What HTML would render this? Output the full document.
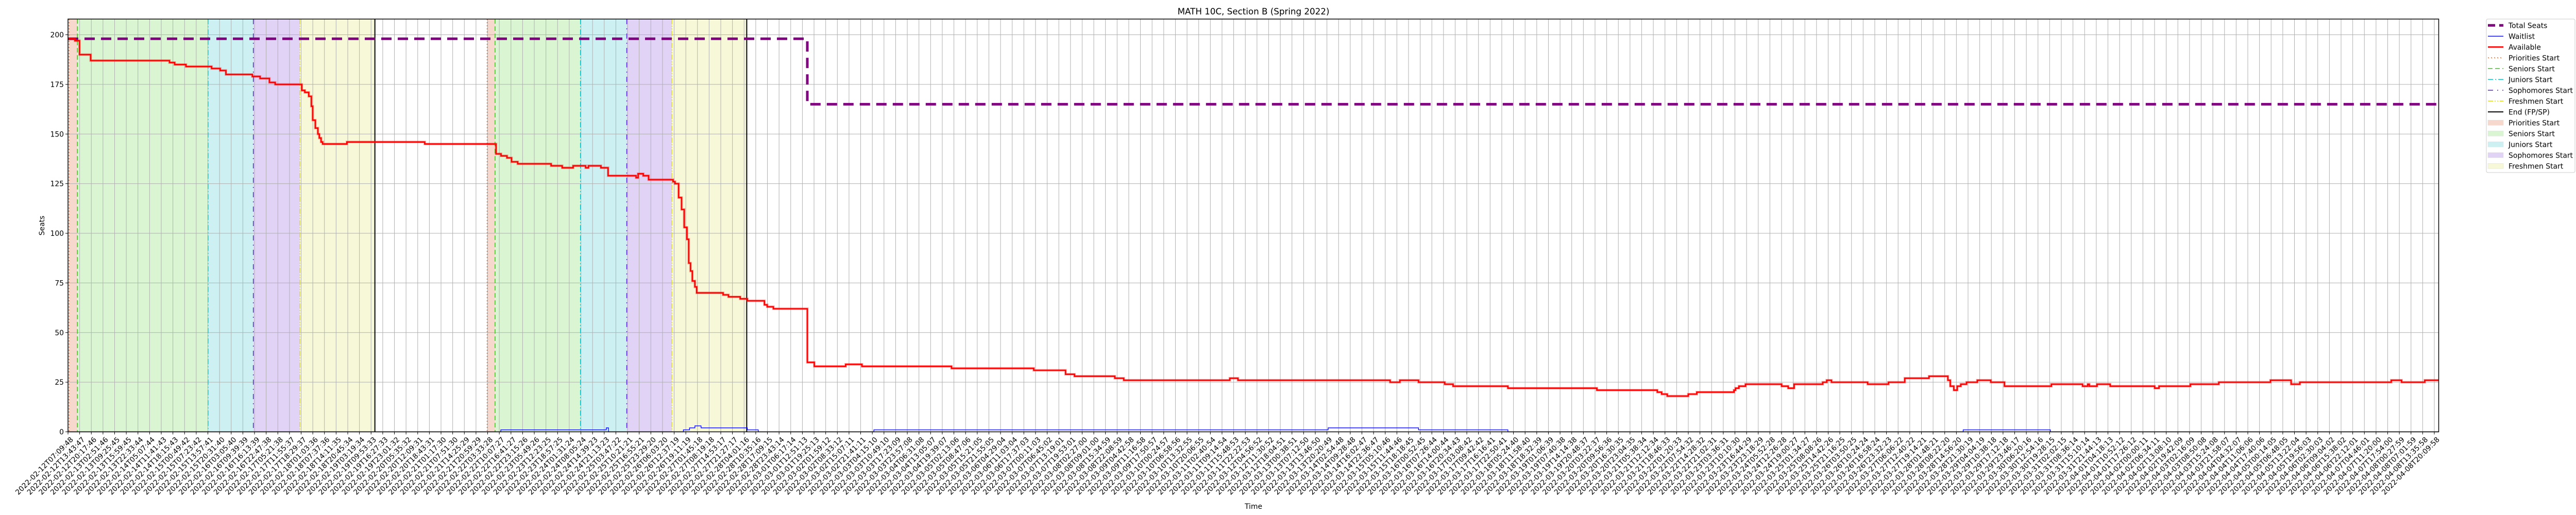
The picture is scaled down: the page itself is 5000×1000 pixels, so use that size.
<!DOCTYPE html>
<html><head><meta charset="utf-8"><style>
html,body{margin:0;padding:0;background:#fff;}
svg{display:block;font-family:"DejaVu Sans","Liberation Sans",sans-serif;}
</style></head><body>
<svg id="chart" width="5000" height="1000" viewBox="0 0 5000 1000" xmlns="http://www.w3.org/2000/svg">
<rect x="0" y="0" width="5000" height="1000" fill="#fff"/>
<text x="2433" y="28" text-anchor="middle" font-size="16.7">MATH 10C, Section B (Spring 2022)</text>
<g id="spans"></g><g id="grid"></g><g id="vlines"></g><g id="series"></g><g id="axes"></g>
<text x="2433" y="988" text-anchor="middle" font-size="13.9">Time</text>
<text transform="translate(86,438) rotate(-90)" text-anchor="middle" font-size="13.9">Seats</text>
<g id="legend"></g>
</svg>
<script>
// ---- data (x in hours since 2022-02-12T07:09:48) ----
const availTimes = [0,3.5,5.8,11.4,51.1,53.7,59.4,72.3,76.6,79.5,92.8,96.7,101.4,104.3,117.7,119.2,121.2,122.5,123.2,124.5,125.8,126.5,127.4,128.2,140.4,179.6,215.5,218,221,223.3,226.4,243.2,248.8,254.3,260.6,262,268.3,271.9,286,287,289.6,292.3,304.6,305.6,307.4,308.9,310.2,311.6,312.5,313.4,314.3,315.6,316.5,329.8,332.5,338.4,342,350.6,352,355.1,372.2,375.7,391.5,399.7,444.8,486.2,502.2,506.7,527,531.5,584.9,589,665.6,670.5,679.9,693.1,697.3,724.9,769.7,800.1,802.3,805.1,815.7,820,838.7,839.5,841.2,844.5,862.7,866,869,883.4,885.4,887.8,906,916.5,924.7,936.9,946.4,947.6,949.4,951.1,952.9,955.8,961.2,968,974.9,998.5,1014.2,1016.8,1017.6,1021.5,1028.1,1050.5,1052.7,1068.5,1082.8,1108.8,1119.2,1123.6,1169.6,1174.8,1186.5];
const availValues = [198,197,190,187,186,185,184,183,182,180,179,178,176,175,172,171,169,164,157,153,150,148,146,145,146,145,140,139,138,136,135,134,133,134,133,134,133,129,128,130,129,127,126,125,118,112,103,97,85,81,76,73,70,69,68,67,66,64,63,62,35,33,34,33,32,31,29,28,27,26,27,26,25,26,25,24,23,22,21,20,19,18,19,20,21,22,23,24,23,22,24,25,26,25,24,25,27,28,26,23,21,23,24,25,26,25,23,24,23,24,23,24,23,22,23,24,25,26,24,25,26,25,26];
const waitTimes = [0,217.9,271,272.1,309.8,312.9,315.6,318.7,342,347.5,405.7,634.4,679.9,724.9,954.1,998];
const waitValues = [0,1,2,0,1,2,3,2,1,0,1,2,1,0,1,0];
const totalTimes = [0,372.2];
const totalValues = [198,165];
const phaseNames = ["Priorities","Seniors","Juniors","Sophomores","Freshmen","End"];
const phaseRound1 = [0.5,4.7,70.5,93.3,116.7,154.5];
const phaseRound2 = [211,215,258,281.3,304,341.7];
const yTicks = [0,25,50,75,100,125,150,175,200];
const xStartLabel = "2022-02-12T07:09:48";
const xEndLabel = "2022-04-08T20:09:58";
const xTickCount = 204;
// ---- layout ----
const L=132,R=4733.5,T=37,B=838.5, XMAX=1193.5, YMAX=(B-T)/3.855;
const NS="http://www.w3.org/2000/svg";
function X(h){return L+h*(R-L)/XMAX;}
function Y(v){return B-v*(B-T)/YMAX;}
function mk(tag,attrs,parent){const e=document.createElementNS(NS,tag);for(const k in attrs)e.setAttribute(k,attrs[k]);parent.appendChild(e);return e;}
const gSp=document.getElementById('spans'),gG=document.getElementById('grid'),gV=document.getElementById('vlines'),gS=document.getElementById('series'),gA=document.getElementById('axes'),gL=document.getElementById('legend');
const spanFill=["#f6d9cc","#d9f5d2","#cdf0f2","#e1d3f5","#f7f8d8"];
const lineCol=["#f0642a","#33cc11","#11c5cc","#5a22dd","#dddd22","#000"];
const lineDash=["2,4","9,5","10,4,2,4","10,8,2,8","10,3,2,3,2,3",""];
[phaseRound1,phaseRound2].forEach((arr,r)=>{
  for(let i=0;i<5;i++){
    const s=mk('rect',{x:X(arr[i]),y:T,width:X(arr[i+1])-X(arr[i]),height:B-T,fill:spanFill[i]},gSp);
    
    
  }
  for(let i=0;i<6;i++){
    const l=mk('line',{x1:X(arr[i]),x2:X(arr[i]),y1:T,y2:B,stroke:lineCol[i],'stroke-width':i==5?2:1.5,'stroke-dasharray':lineDash[i]},gV);
    
    
  }
});
// grid + y ticks
yTicks.forEach(v=>{
  const g=mk('line',{x1:L,x2:R,y1:Y(v),y2:Y(v),stroke:'#b0b0b0','stroke-width':1},gG);
  
  
  mk('line',{x1:L-5,x2:L,y1:Y(v),y2:Y(v),stroke:'#000','stroke-width':1},gA);
  const t=mk('text',{x:L-8,y:Y(v)+5,'text-anchor':'end','font-size':13.9},gA);
  t.textContent=v;
  
  
});
const t0=Date.UTC(2022,1,12,7,9,48), t1=Date.UTC(2022,3,8,20,9,58);
function fmt(ms){const d=new Date(ms);const p=n=>String(n).padStart(2,'0');return d.getUTCFullYear()+'-'+p(d.getUTCMonth()+1)+'-'+p(d.getUTCDate())+'T'+p(d.getUTCHours())+':'+p(d.getUTCMinutes())+':'+p(d.getUTCSeconds());}
const tickSp=(4725-L)/(xTickCount-1);
for(let k=0;k<xTickCount;k++){
  const x=L+k*tickSp;
  mk('line',{x1:x,x2:x,y1:T,y2:B,stroke:'#b0b0b0','stroke-width':1},gG);
  mk('line',{x1:x,x2:x,y1:B,y2:B+5,stroke:'#000','stroke-width':1},gA);
  const lab=k==0?xStartLabel:(k==xTickCount-1?xEndLabel:fmt(t0+(t1-t0)*k/(xTickCount-1)));
  const t=mk('text',{transform:'translate('+(x+4)+','+(B+9)+') rotate(-45)','text-anchor':'end','font-size':13.9,dy:'0.7em'},gA);
  t.textContent=lab;
  
  
}
function stepPath(ts,vs,end){let d='M'+X(ts[0])+','+Y(vs[0]);for(let i=1;i<ts.length;i++){d+=' H'+X(ts[i])+' V'+Y(vs[i]);}d+=' H'+X(end);return d;}
const tot=mk('path',{d:stepPath(totalTimes,totalValues,XMAX),fill:'none',stroke:'#800080','stroke-width':5,'stroke-dasharray':'20,12'},gS);


const wl=mk('path',{d:stepPath(waitTimes,waitValues,XMAX),fill:'none',stroke:'#0000ff','stroke-width':1.3},gS);


mk('path',{d:stepPath(availTimes,availValues,XMAX),fill:'none',stroke:'rgba(255,0,0,0.3)','stroke-width':5},gS);
const av=mk('path',{d:stepPath(availTimes,availValues,XMAX),fill:'none',stroke:'#ff0000','stroke-width':2.6},gS);


const frame=mk('rect',{x:L,y:T,width:R-L,height:B-T,fill:'none',stroke:'#000','stroke-width':1.5},gA);


// legend
const lb=mk('rect',{x:4826,y:37,width:172,height:298,fill:'#fff',stroke:'#ccc','stroke-width':1,rx:3},gL);


const legItems=[
 ['Total Seats','line','#800080',5,'14,8'],['Waitlist','line','#0000ff',1.3,''],['Available','line','#ff0000',2.6,''],
 ['Priorities Start','line',lineCol[0],1.5,lineDash[0]],['Seniors Start','line',lineCol[1],1.5,lineDash[1]],['Juniors Start','line',lineCol[2],1.5,lineDash[2]],
 ['Sophomores Start','line',lineCol[3],1.5,lineDash[3]],['Freshmen Start','line',lineCol[4],1.5,lineDash[4]],['End (FP/SP)','line','#000',2,''],
 ['Priorities Start','patch',spanFill[0]],['Seniors Start','patch',spanFill[1]],['Juniors Start','patch',spanFill[2]],['Sophomores Start','patch',spanFill[3]],['Freshmen Start','patch',spanFill[4]]];
legItems.forEach((it,i)=>{
  const cy=49.3+i*21;
  const g=mk('g',{},gL);
  
  
  if(it[1]=='line') mk('line',{x1:4829,x2:4859,y1:cy,y2:cy,stroke:it[2],'stroke-width':it[3],'stroke-dasharray':it[4]},g);
  else mk('rect',{x:4829,y:cy-5,width:30,height:10,fill:it[2],stroke:'#ddd','stroke-width':0.5},g);
  const t=mk('text',{x:4869,y:cy+5,'font-size':13.9},g);
  t.textContent=it[0];
});
</script>
</body></html>
